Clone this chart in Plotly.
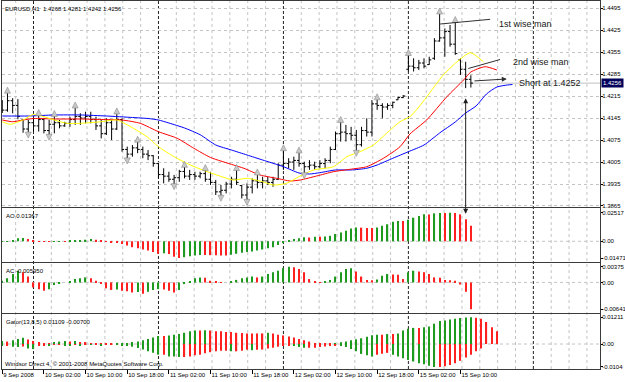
import plotly.graph_objects as go

# ---------------- data ----------------
bar_index = list(range(91))  # H1 bars, 0 = 9 Sep 18:00 ... 90 = 15 Sep 12:00
opens = [1.4195,1.4170,1.4200,1.4185,1.4138,1.4110,1.4130,1.4120,1.4140,1.4105,
         1.4125,1.4130,1.4120,1.4128,1.4140,1.4150,1.4145,1.4150,1.4140,1.4120,
         1.4095,1.4130,1.4110,1.4140,1.4045,1.4030,1.4050,1.4045,1.4030,1.4025,
         1.4000,1.3965,1.3960,1.3950,1.3955,1.3975,1.3960,1.3965,1.3960,1.3968,
         1.3950,1.3940,1.3910,1.3915,1.3935,1.3950,1.3930,1.3900,1.3925,1.3945,
         1.3940,1.3945,1.3940,1.3950,1.3995,1.4000,1.4005,1.4010,1.4000,1.3990,
         1.3995,1.3990,1.4000,1.4010,1.4045,1.4095,1.4100,1.4095,1.4090,1.4060,
         1.4105,1.4100,1.4190,1.4185,1.4180,1.4185,1.4203,1.4210,1.4300,1.4310,
         1.4305,1.4320,1.4315,1.4335,1.4390,1.4400,1.4420,1.4380,1.4330,1.4300,
         1.4268]
highs = [1.4202,1.4226,1.4208,1.4205,1.4141,1.4139,1.4145,1.4155,1.4145,1.4139,
         1.4152,1.4139,1.4133,1.4149,1.4179,1.4160,1.4165,1.4165,1.4149,1.4139,
         1.4144,1.4139,1.4160,1.4144,1.4054,1.4059,1.4070,1.4054,1.4043,1.4027,
         1.4001,1.3985,1.3974,1.3964,1.3980,1.3990,1.3980,1.3974,1.3974,1.3980,
         1.3974,1.3948,1.3932,1.3942,1.3958,1.3980,1.3932,1.3937,1.3953,1.3966,
         1.3958,1.3958,1.3958,1.4001,1.4043,1.4017,1.4022,1.4036,1.4006,1.4011,
         1.4006,1.4011,1.4017,1.4054,1.4102,1.4133,1.4123,1.4117,1.4107,1.4117,
         1.4144,1.4202,1.4205,1.4192,1.4192,1.4197,1.4213,1.4218,1.4346,1.4335,
         1.4330,1.4335,1.4340,1.4399,1.4478,1.4430,1.4441,1.4451,1.4335,1.4324,
         1.4281]
lows = [1.4161,1.4165,1.4160,1.4141,1.4098,1.4096,1.4102,1.4102,1.4096,1.4089,
        1.4096,1.4112,1.4117,1.4117,1.4123,1.4123,1.4128,1.4128,1.4107,1.4080,
        1.4091,1.4075,1.4107,1.4038,1.4014,1.4022,1.4033,1.4017,1.4011,1.3990,
        1.3953,1.3937,1.3942,1.3932,1.3942,1.3953,1.3948,1.3948,1.3953,1.3942,
        1.3932,1.3900,1.3895,1.3905,1.3921,1.3932,1.3889,1.3882,1.3905,1.3921,
        1.3921,1.3932,1.3926,1.3948,1.3980,1.3985,1.3980,1.3990,1.3967,1.3980,
        1.3980,1.3985,1.3985,1.4001,1.4043,1.4070,1.4070,1.4075,1.4038,1.4054,
        1.4086,1.4086,1.4171,1.4144,1.4171,1.4176,1.4202,1.4208,1.4293,1.4293,
        1.4298,1.4303,1.4314,1.4330,1.4388,1.4340,1.4372,1.4346,1.4282,1.4240,
        1.4242]
closes = [1.4170,1.4200,1.4185,1.4150,1.4110,1.4130,1.4120,1.4140,1.4105,1.4125,
          1.4130,1.4120,1.4128,1.4140,1.4150,1.4145,1.4150,1.4140,1.4120,1.4095,
          1.4130,1.4110,1.4140,1.4045,1.4030,1.4050,1.4045,1.4030,1.4025,1.4000,
          1.3965,1.3960,1.3950,1.3955,1.3975,1.3960,1.3965,1.3960,1.3968,1.3950,
          1.3940,1.3910,1.3915,1.3935,1.3950,1.3940,1.3900,1.3925,1.3945,1.3940,
          1.3945,1.3940,1.3950,1.3995,1.4000,1.4005,1.4010,1.4000,1.3990,1.3995,
          1.3990,1.4000,1.4010,1.4045,1.4095,1.4100,1.4095,1.4090,1.4060,1.4105,
          1.4100,1.4190,1.4185,1.4180,1.4185,1.4195,1.4210,1.4215,1.4310,1.4305,
          1.4320,1.4310,1.4330,1.4390,1.4400,1.4420,1.4380,1.4350,1.4300,1.4268,
          1.4256]

fractal_up_idx = [1, 7, 10, 14, 22, 26, 35, 39, 45, 49, 54, 57, 65, 72, 78, 84, 87]
fractal_down_idx = [5, 9, 24, 33, 42, 47, 58, 68]

# Alligator lines (bar index, price)
jaw_x = [0, 5, 10, 15, 20, 25, 28, 30, 32, 35, 38, 41, 44, 47, 50, 54, 57, 59, 61, 64,
         67, 70, 72, 75, 78, 81, 84, 87, 89, 91, 93, 95, 97, 98]
jaw_y = [1.41514, 1.41514, 1.41546, 1.41546, 1.41514, 1.41466, 1.41434, 1.41386, 1.41291,
         1.41132, 1.40919, 1.40591, 1.40432, 1.40273, 1.40114, 1.39901, 1.39700, 1.39668,
         1.39710, 1.39796, 1.39796, 1.39850, 1.39955, 1.40168, 1.40378, 1.40591, 1.40973,
         1.41323, 1.41609, 1.41832, 1.42214, 1.42436, 1.42500, 1.42516]
teeth_x = [0, 2, 4, 6, 10, 15, 19, 23, 26.5, 30, 33.6, 36.8, 40, 44.4, 46.4, 49.5, 52.7,
           55.3, 57.2, 60.4, 63.6, 66.8, 70, 73.2, 76.4, 78.3, 81.5, 85.4, 88.6, 90, 92.7, 95]
teeth_y = [1.41386, 1.41332, 1.41386, 1.41434, 1.41418, 1.41418, 1.41402, 1.41386, 1.41281,
           1.41014, 1.40804, 1.40486, 1.40193, 1.39955, 1.39850, 1.39636, 1.39531, 1.39445,
           1.39477, 1.39605, 1.39741, 1.39818, 1.39900, 1.40168, 1.40537, 1.40941, 1.41386,
           1.42128, 1.42659, 1.42914, 1.43082, 1.42977]
lips_x = [0, 1.5, 4, 6, 8, 10, 12.4, 15, 19, 22, 25.2, 27.8, 30, 33, 36.1, 38.5, 41.2, 44.4,
          47, 50, 52, 54.6, 57.2, 59.8, 63.6, 66.2, 68.7, 71.3, 73.8, 76.4, 78.3, 80, 81.5,
          84.7, 87.3, 89.9, 92.4]
lips_y = [1.41332, 1.41250, 1.41386, 1.41568, 1.41491, 1.41386, 1.41281, 1.41281, 1.41332,
          1.41386, 1.41122, 1.40855, 1.40537, 1.40219, 1.39955, 1.39796, 1.39636, 1.39477,
          1.39531, 1.39423, 1.39318, 1.39372, 1.39605, 1.39796, 1.39900, 1.40219, 1.40378,
          1.40591, 1.40963, 1.41332, 1.41491, 1.41800, 1.42118, 1.42818, 1.43232, 1.43528,
          1.43241]

ao_values = [-0.0003, 0.0002, 0.0009, 0.0026, 0.0029, 0.0020, 0.0006, 0.0002, 0.0001, -0.0001,
             0.0001, 0.0002, 0.0001, 0.0003, 0.0005, 0.0009, 0.0014, 0.0020, 0.0014, 0.0009,
             -0.0005, -0.0009, -0.0014, -0.0023, -0.0038, -0.0052, -0.0061, -0.0072, -0.0081, -0.0095,
             -0.0110, -0.0105, -0.0112, -0.0135, -0.01471, -0.0140, -0.0132, -0.0126, -0.0120, -0.0121,
             -0.0122, -0.0123, -0.0124, -0.0125, -0.0119, -0.0110, -0.0101, -0.0095, -0.0090, -0.0081,
             -0.0072, -0.0061, -0.0052, -0.0032, -0.0008, 0.0006, 0.0020, 0.0026, 0.0035, 0.0033,
             0.0040, 0.0039, 0.0043, 0.0049, 0.0064, 0.0078, 0.0092, 0.0113, 0.0121, 0.0120,
             0.0118, 0.0116, 0.0121, 0.0136, 0.0150, 0.0171, 0.0179, 0.0178, 0.0190, 0.0208,
             0.0223, 0.0237, 0.0236, 0.0246, 0.0249, 0.0248, 0.02517, 0.0249, 0.0237, 0.0194,
             0.01367]
ac_values = [0.0004, 0.0010, 0.0020, 0.0028, 0.0024, 0.0014, -0.0012, -0.0016, -0.0020, -0.0016,
             -0.0006, -0.0003, 0.0000, 0.0002, 0.0008, 0.0010, 0.0012, 0.0010, 0.0004, -0.0004,
             -0.0014, -0.0018, -0.0017, -0.0020, -0.0021, -0.0024, -0.0023, -0.0027, -0.0022, -0.0018,
             -0.0016, -0.0017, -0.0020, -0.0024, -0.0018, -0.0004, 0.0003, 0.0010, 0.0012, 0.0011,
             0.0004, 0.0002, 0.0001, 0.0000, 0.0002, 0.0006, 0.0010, 0.0012, 0.0014, 0.0012,
             0.0014, 0.0020, 0.0024, 0.0028, 0.0034, 0.00375, 0.0036, 0.0032, 0.0024, 0.0008,
             0.0002, 0.0001, 0.0002, 0.0006, 0.0014, 0.0024, 0.0032, 0.0034, 0.0026, 0.0014,
             0.0006, 0.0005, 0.0007, 0.0016, 0.0020, 0.0019, 0.0018, 0.0008, 0.0024, 0.0028,
             0.0026, 0.0024, 0.0020, 0.0012, 0.0011, 0.0006, 0.0005, 0.0004, -0.0005, -0.0022,
             -0.00641]
gator_up = [0.0014, 0.0011, 0.0017, 0.0023, 0.0028, 0.0020, 0.0014, 0.0009, 0.0005, 0.0005,
            0.0009, 0.0011, 0.0014, 0.0011, 0.0014, 0.0009, 0.0009, 0.0005, 0.0003, 0.0003,
            0.0002, 0.0001, 0.0002, 0.0003, 0.0005, 0.0009, 0.0012, 0.0017, 0.0023, 0.0030,
            0.0036, 0.0036, 0.0039, 0.0042, 0.0045, 0.0051, 0.0058, 0.0061, 0.0061, 0.0062,
            0.0061, 0.0058, 0.0058, 0.0055, 0.0055, 0.0051, 0.0050, 0.0048, 0.0048, 0.0048,
            0.0048, 0.0051, 0.0048, 0.0042, 0.0039, 0.0034, 0.0030, 0.0023, 0.0017, 0.0011,
            0.0005, 0.0002, 0.0002, 0.0002, 0.0005, 0.0008, 0.0011, 0.0017, 0.0022, 0.0026,
            0.0033, 0.0040, 0.0042, 0.0042, 0.0045, 0.0045, 0.0048, 0.0061, 0.0069, 0.0073,
            0.0073, 0.0076, 0.0079, 0.0092, 0.0104, 0.0107, 0.0111, 0.0115, 0.0118, 0.0120,
            0.01211, 0.0119, 0.0115, 0.0100, 0.0076, 0.0058]
gator_down = [-0.0009, -0.0008, -0.0012, -0.0014, -0.0011, -0.0020, -0.0023, -0.0008, -0.0005, -0.0006,
              -0.0004, -0.0003, -0.0005, -0.0006, -0.0004, -0.0005, -0.0003, -0.0004, -0.0003, -0.0005,
              -0.0004, -0.0003, -0.0004, -0.0006, -0.0008, -0.0012, -0.0018, -0.0025, -0.0033, -0.0040,
              -0.0048, -0.0048, -0.0056, -0.0057, -0.0059, -0.0059, -0.0056, -0.0051, -0.0048, -0.0042,
              -0.0037, -0.0033, -0.0030, -0.0030, -0.0033, -0.0033, -0.0030, -0.0026, -0.0028, -0.0026,
              -0.0025, -0.0020, -0.0017, -0.0012, -0.0009, -0.0005, -0.0009, -0.0014, -0.0017, -0.0017,
              -0.0017, -0.0014, -0.0011, -0.0008, -0.0005, -0.0008, -0.0014, -0.0022, -0.0033, -0.0045,
              -0.0051, -0.0056, -0.0048, -0.0044, -0.0040, -0.0048, -0.0056, -0.0064, -0.0072, -0.0079,
              -0.0087, -0.0092, -0.0098, -0.0104, -0.0104, -0.0101, -0.0095, -0.0087, -0.0076, -0.0061,
              -0.0048, -0.0033, -0.0020]

price_ticks = [1.3865, 1.3935, 1.4005, 1.4075, 1.4145, 1.4215, 1.4285, 1.4355, 1.4425, 1.4495]
bid_price = 1.4256
ao_ticks = [-0.01471, 0.0, 0.02517]
ao_ticktext = ["-0.01471", "0.00", "0.02517"]
ac_ticks = [-0.00641, 0.0, 0.00375]
ac_ticktext = ["-0.00641", "0.00", "0.00375"]
gator_ticks = [-0.0104, 0.0, 0.01211]
gator_ticktext = ["-0.0104", "0.00", "0.01211"]

time_label_idx = [0, 8, 16, 24, 32, 40, 48, 56, 64, 72, 80, 88]
time_labels = ["9 Sep 2008", "10 Sep 02:00", "10 Sep 10:00", "10 Sep 18:00", "11 Sep 02:00",
               "11 Sep 10:00", "11 Sep 18:00", "12 Sep 02:00", "12 Sep 10:00", "12 Sep 18:00",
               "15 Sep 02:00", "15 Sep 10:00"]
day_start_idx = [-18, 6, 30, 54, 78, 102]

# ---------------- styles ----------------
FONT = "Liberation Sans, Arial, sans-serif"
GREEN = "#1e9a1e"
RED = "#ff2020"
BORDER = "#3a3a3a"
GRID = "#c4c4c4"
XR = [-0.05, 114.8]
SMALL = 6


def rise_colors(vals, use_abs=False):
    out = []
    for k, v in enumerate(vals):
        if k == 0:
            out.append(GREEN)
            continue
        a, b = (abs(v), abs(vals[k - 1])) if use_abs else (v, vals[k - 1])
        out.append(GREEN if a > b else RED)
    return out


fig = go.Figure()

# Main: OHLC bars
fig.add_trace(go.Ohlc(x=bar_index, open=opens, high=highs, low=lows, close=closes,
                      increasing=dict(line=dict(color="#000000", width=1)),
                      decreasing=dict(line=dict(color="#000000", width=1)),
                      tickwidth=0.4, xaxis="x", yaxis="y", hoverinfo="skip"))

# Alligator
for xs, ys, col in [(jaw_x, jaw_y, "#0000ff"), (teeth_x, teeth_y, "#ff0000"), (lips_x, lips_y, "#ffff00")]:
    fig.add_trace(go.Scatter(x=xs, y=ys, mode="lines", line=dict(color=col, width=1, shape="spline", smoothing=0.6),
                             xaxis="x", yaxis="y", hoverinfo="skip"))

# Fractals
fig.add_trace(go.Scatter(x=fractal_up_idx, y=[highs[i] + 0.0017 for i in fractal_up_idx], mode="markers",
                         marker=dict(symbol="arrow-up", size=6, color="#c8c8c8", line=dict(color="#8c8c8c", width=0.6)),
                         xaxis="x", yaxis="y", hoverinfo="skip"))
fig.add_trace(go.Scatter(x=fractal_down_idx, y=[lows[i] - 0.0015 for i in fractal_down_idx], mode="markers",
                         marker=dict(symbol="arrow-down", size=6, color="#c8c8c8", line=dict(color="#8c8c8c", width=0.6)),
                         xaxis="x", yaxis="y", hoverinfo="skip"))

# AO
fig.add_trace(go.Bar(x=bar_index, y=ao_values, width=0.24, marker=dict(color=rise_colors(ao_values), line=dict(width=0)),
                     xaxis="x2", yaxis="y2", hoverinfo="skip"))
# AC
fig.add_trace(go.Bar(x=bar_index, y=ac_values, width=0.24, marker=dict(color=rise_colors(ac_values), line=dict(width=0)),
                     xaxis="x3", yaxis="y3", hoverinfo="skip"))
# Gator
fig.add_trace(go.Bar(x=list(range(len(gator_up))), y=gator_up, width=0.24,
                     marker=dict(color=rise_colors(gator_up, True), line=dict(width=0)),
                     xaxis="x4", yaxis="y4", hoverinfo="skip"))
fig.add_trace(go.Bar(x=list(range(len(gator_down))), y=gator_down, width=0.24,
                     marker=dict(color=rise_colors(gator_down, True), line=dict(width=0)),
                     xaxis="x4", yaxis="y4", hoverinfo="skip"))

# ---------------- layout ----------------
H = 368.0
def dom(top_px, bot_px):
    return [(369 - bot_px) / H, (369 - top_px) / H]

xcommon = dict(range=XR, showline=True, mirror=True, linecolor=BORDER, linewidth=1, showgrid=False,
               zeroline=False, fixedrange=True, automargin=False)
ycommon = dict(side="right", showline=True, mirror=True, linecolor=BORDER, linewidth=1, zeroline=False,
               ticks="outside", ticklen=2, tickcolor="#000", tickwidth=1, fixedrange=True, automargin=False,
               ticklabelstandoff=-2, tickfont=dict(family=FONT, size=SMALL, color="#000"))

fig.update_layout(
    width=625, height=382, margin=dict(l=2, r=25, t=1, b=13),
    paper_bgcolor="white", plot_bgcolor="white", showlegend=False,
    barmode="overlay", font=dict(family=FONT, size=SMALL, color="#000"),
    xaxis=dict(anchor="y", showticklabels=False, rangeslider=dict(visible=False), **xcommon),
    xaxis2=dict(anchor="y2", matches="x", showticklabels=False, **xcommon),
    xaxis3=dict(anchor="y3", matches="x", showticklabels=False, **xcommon),
    xaxis4=dict(anchor="y4", matches="x", tickvals=time_label_idx, ticktext=time_labels, ticks="outside",
                ticklen=4, tickcolor="#000", ticklabelposition="outside right", tickangle=0,
                tickfont=dict(family=FONT, size=SMALL, color="#000"), **xcommon),
    yaxis=dict(domain=dom(1, 207), anchor="x", range=[1.38618, 1.45173], tickvals=price_ticks,
               tickformat=".4f", showgrid=True, gridcolor=GRID, griddash="dot", gridwidth=1, **ycommon),
    yaxis2=dict(domain=dom(208, 262), anchor="x2", range=[-0.01823, 0.02931], tickvals=ao_ticks,
                ticktext=ao_ticktext, showgrid=False, **ycommon),
    yaxis3=dict(domain=dom(263, 313), anchor="x3", range=[-0.00729, 0.00463], tickvals=ac_ticks,
                ticktext=ac_ticktext, showgrid=False, **ycommon),
    yaxis4=dict(domain=dom(314, 369), anchor="x4", range=[-0.01131, 0.01360], tickvals=gator_ticks,
                ticktext=gator_ticktext, showgrid=False, **ycommon),
)

shapes = []
# vertical grid and day separators
for d in day_start_idx:
    for k in range(7):
        xv = d + k * 24 / 7
        if xv <= XR[0] or xv >= XR[1]:
            continue
        if k == 0:
            shapes.append(dict(type="line", xref="x", yref="paper", x0=xv, x1=xv, y0=0, y1=1, layer="below",
                               line=dict(color="#202020", width=1, dash="3px,2px")))
        else:
            shapes.append(dict(type="line", xref="x", yref="paper", x0=xv, x1=xv, y0=0, y1=1, layer="below",
                               line=dict(color=GRID, width=1, dash="dot")))
# zero lines of sub windows
for ya in ["y2", "y3", "y4"]:
    shapes.append(dict(type="line", xref="paper", yref=ya, x0=0, x1=1, y0=0, y1=0, layer="below",
                       line=dict(color=GRID, width=1, dash="dot")))
# bid line
shapes.append(dict(type="line", xref="paper", yref="y", x0=0, x1=1, y0=bid_price, y1=bid_price, layer="below",
                   line=dict(color="#c0c0c0", width=1)))
# wise men lines
shapes.append(dict(type="line", xref="x", yref="y", x0=84.1, y0=1.44441, x1=93.7, y1=1.44590,
                   line=dict(color="#303030", width=1)))
shapes.append(dict(type="line", xref="x", yref="y", x0=89.5, y0=1.43025, x1=95.6, y1=1.43311,
                   line=dict(color="#303030", width=1)))
fig.update_layout(shapes=shapes)

ann = []
ann.append(dict(text="EURUSD,H1  1.4268 1.4281 1.4242 1.4256", xref="paper", yref="paper", x=0, y=1,
                xanchor="left", yanchor="top", xshift=1, yshift=-3, showarrow=False,
                font=dict(family=FONT, size=SMALL, color="#000")))
for txt, ya in [("AO 0.01367", "y2 domain"), ("AC -0.005950", "y3 domain"), ("Gator(13,8,5) 0.01109 -0.00700", "y4 domain")]:
    ann.append(dict(text=txt, xref="paper", yref=ya, x=0, y=1, xanchor="left", yanchor="top", xshift=2,
                    yshift=-3, showarrow=False, font=dict(family=FONT, size=SMALL, color="#000")))
ann.append(dict(text="Windsor Direct 4, © 2001-2008 MetaQuotes Software Corp.", xref="paper", yref="y4 domain",
                x=0, y=0, xanchor="left", yanchor="bottom", xshift=1, yshift=0, showarrow=False,
                font=dict(family=FONT, size=SMALL, color="#000")))
# current price box
ann.append(dict(text="1.4256", xref="paper", yref="y", x=1, y=bid_price, xanchor="left", yanchor="middle",
                xshift=1, showarrow=False, bgcolor="#00005a", borderpad=1,
                font=dict(family=FONT, size=SMALL, color="#ffffff")))
# labels
for txt, xv, yv in [("1st wise man", 95.0, 1.44441), ("2nd wise man", 97.7, 1.43232), ("Short at 1.4252", 98.9, 1.42564)]:
    ann.append(dict(text=txt, xref="x", yref="y", x=xv, y=yv, xanchor="left", yanchor="middle", showarrow=False,
                    font=dict(family=FONT, size=9, color="#202020")))
# short arrow
ann.append(dict(text="", xref="x", yref="y", x=96.9, y=1.42691, axref="x", ayref="y", ax=90.4, ay=1.42627,
                showarrow=True, arrowhead=2, arrowsize=1, arrowwidth=1, arrowcolor="#303030"))
# vertical arrow down into AO window
ann.append(dict(text="", xref="x", yref="y", x=89, y=1.42077, ax=0, ay=117, showarrow=True,
                arrowhead=2, startarrowhead=2, arrowside="end+start", arrowsize=1, arrowwidth=1,
                arrowcolor="#202020"))
fig.update_layout(annotations=ann)

fig.write_html("out.html")
